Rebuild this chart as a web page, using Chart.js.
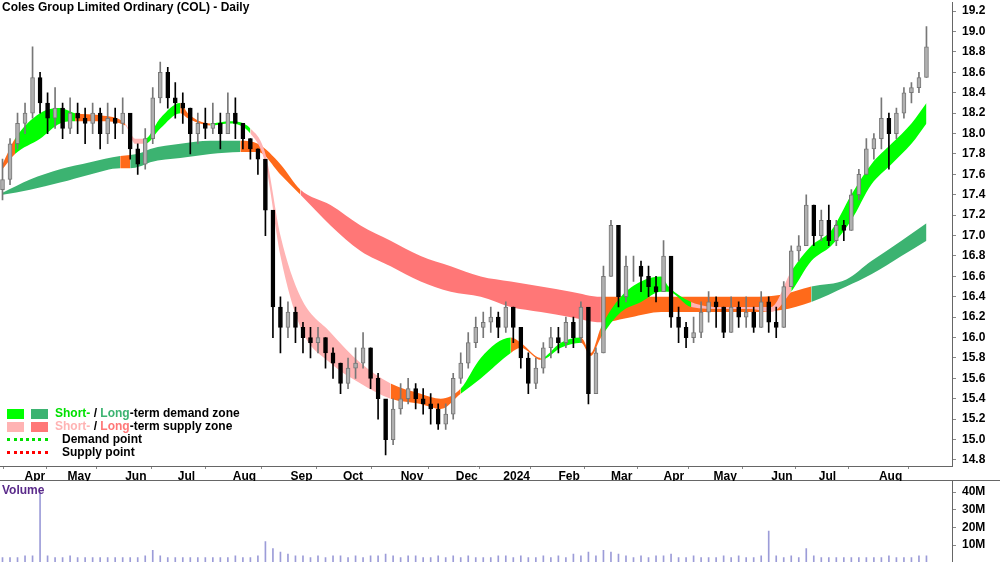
<!DOCTYPE html>
<html>
<head>
<meta charset="utf-8">
<script src="https://cdn.jsdelivr.net/npm/chart.js@4/dist/chart.umd.min.js"></script>
<style>
  body { margin: 0; width: 1000px; height: 562px; overflow: hidden; background: #fff; font-family: Arial, 'Liberation Sans', sans-serif; position: relative; }
  #volWrap { position: absolute; left: 0; top: 468px; width: 1000px; height: 108px; }
  #sep { position: absolute; left: 0; top: 480px; width: 1000px; height: 0; border-top: 1px solid #666; }
  #priceWrap { position: absolute; left: 0; top: -11px; width: 1000px; height: 492px; }
  #title { position: absolute; left: 2px; top: 0; font-size: 12px; font-weight: bold; color: #000; }
  #volLabel { position: absolute; left: 2px; top: 483px; font-size: 12px; font-weight: bold; color: #5a2a8a; }
  #legend { position: absolute; left: 7px; top: 407px; font-size: 12px; font-weight: bold; line-height: 13px; }
  .row { display: flex; align-items: center; height: 13px; }
  .box { width: 17px; height: 10px; margin-right: 7px; }
  .dots { width: 41px; height: 0; border-top: 3px dotted; margin-right: 14px; }
</style>
</head>
<body>
<div id="volWrap"><canvas id="volChart" width="1000" height="108"></canvas></div>
<div id="sep"></div>
<div id="priceWrap"><canvas id="priceChart" width="1000" height="492"></canvas></div>
<div id="title">Coles Group Limited Ordinary (COL) - Daily</div>
<div id="volLabel">Volume</div>
<div id="legend">
  <div class="row"><span class="box" style="background:#00ff00"></span><span class="box" style="background:#3cb371"></span><span style="color:#00e000">Short-</span>&nbsp;/&nbsp;<span style="color:#3cb371">Long</span>-term demand zone</div>
  <div class="row"><span class="box" style="background:#ffb3b3"></span><span class="box" style="background:#ff7777"></span><span style="color:#ffb3b3">Short-</span>&nbsp;/&nbsp;<span style="color:#ff7777">Long</span>-term supply zone</div>
  <div class="row"><span class="dots" style="border-color:#00e000"></span>Demand point</div>
  <div class="row"><span class="dots" style="border-color:#ff0000"></span>Supply point</div>
</div>
<script>
// ── Candles: one every 3 trading days (x = 3 * index) ─────────────────────────
const closes = [17.55,17.9,18.1,18.2,18.55,18.3,18.15,18.25,18.05,18.2,18.15,18.1,18.2,18.0,18.15,18.1,18.2,17.85,17.7,17.95,
  18.35,18.6,18.35,18.3,18.25,18.0,18.1,18.05,18.1,18.0,18.2,18.1,17.95,17.85,17.75,17.25,16.3,16.1,16.25,16.1,
  16.0,15.95,16.0,15.85,15.75,15.55,15.7,15.75,15.9,15.6,15.4,15.0,15.3,15.4,15.5,15.4,15.35,15.3,15.15,15.25,
  15.6,15.75,15.95,16.1,16.15,16.2,16.1,16.3,16.1,15.8,15.55,15.7,15.9,16.0,15.95,16.15,16.0,16.3,15.45,15.85,
  16.6,17.1,16.4,16.7,16.7,16.6,16.5,16.45,16.8,16.2,16.1,16.0,16.05,16.25,16.35,16.3,16.05,16.3,16.2,16.25,
  16.1,16.35,16.15,16.1,16.5,16.85,16.9,17.3,17.0,17.15,16.95,17.1,17.05,17.4,17.6,17.85,17.95,18.15,18.0,18.2,
  18.4,18.45,18.55,18.85];
const highs = [17.75,17.95,18.2,18.3,18.85,18.6,18.4,18.45,18.3,18.35,18.3,18.25,18.3,18.25,18.3,18.25,18.35,18.1,17.9,18.05,
  18.45,18.7,18.65,18.5,18.4,18.25,18.2,18.25,18.3,18.2,18.4,18.35,18.1,17.95,17.85,17.5,16.65,16.4,16.35,16.3,
  16.15,16.1,16.1,16.0,15.9,15.75,15.8,15.9,16.05,15.9,15.65,15.35,15.4,15.55,15.6,15.55,15.5,15.45,15.35,15.35,
  15.65,15.85,16.05,16.2,16.25,16.3,16.25,16.35,16.3,16.05,15.85,15.8,15.95,16.1,16.1,16.2,16.2,16.35,16.1,15.9,
  16.7,17.15,17.0,16.8,16.8,16.75,16.7,16.6,16.95,16.6,16.3,16.15,16.2,16.35,16.45,16.4,16.3,16.4,16.35,16.4,
  16.3,16.45,16.4,16.3,16.55,16.9,17.0,17.4,17.3,17.25,17.3,17.15,17.15,17.45,17.65,17.95,18.0,18.35,18.2,18.25,
  18.45,18.5,18.6,19.05];
const lows = [17.35,17.5,17.85,18.0,18.15,18.2,18.0,18.05,17.95,18.0,18.0,17.9,18.0,17.85,17.9,17.95,18.0,17.75,17.6,17.65,
  17.9,18.3,18.25,18.15,18.1,17.8,17.9,17.95,18.0,17.85,18.0,17.95,17.85,17.75,17.6,17.0,16.0,15.85,16.0,15.95,
  15.85,15.8,15.85,15.7,15.6,15.45,15.5,15.6,15.7,15.5,15.2,14.85,14.95,15.25,15.35,15.3,15.25,15.15,15.1,15.1,
  15.2,15.55,15.7,15.9,16.0,16.05,16.0,16.05,15.95,15.7,15.45,15.5,15.65,15.8,15.85,15.9,15.9,15.95,15.35,15.45,
  15.85,16.6,16.3,16.35,16.55,16.45,16.4,16.35,16.45,16.1,15.95,15.9,15.95,16.0,16.15,16.1,16.0,16.05,16.1,16.1,
  16.05,16.1,16.05,16.0,16.1,16.5,16.75,16.9,16.9,16.95,16.9,16.9,16.95,17.05,17.35,17.6,17.75,17.85,17.65,17.95,
  18.15,18.3,18.4,18.55];
const volumes = [3,3,3,4,4,40,4,3,3,4,3,3,3,3,3,3,3,3,3,4,
  7,4,3,3,3,3,3,3,3,3,3,4,3,3,4,12,8,6,5,4,
  4,3,4,3,4,4,3,4,3,4,4,5,4,3,4,4,3,3,4,3,
  4,3,4,3,3,3,4,4,3,4,3,3,4,3,4,3,5,4,6,4,
  7,6,5,4,3,4,3,4,4,5,3,3,4,3,3,3,4,3,4,3,
  3,4,18,4,3,4,3,8,4,3,3,3,3,3,3,3,3,3,4,3,
  3,3,4,4];

// ── Zones: [day, upper, lower], state d=demand s=supply t=transition ──────────
const longDays  = [0,11,23,35,47,51,55,59,71,83,95,102,111,119,131,143,155,167,179,191,203,215,227,239,251,263,275,287,299,311,323,337,347,359,369];
const longUpper = [17.42,17.55,17.65,17.72,17.78,17.79,17.81,17.85,17.9,17.93,17.93,17.9,17.7,17.45,17.3,17.1,16.95,16.8,16.7,16.6,16.55,16.5,16.45,16.4,16.4,16.4,16.4,16.4,16.4,16.42,16.5,16.57,16.75,16.95,17.12];
const longLower = [17.4,17.45,17.52,17.6,17.66,17.66,17.68,17.72,17.76,17.8,17.82,17.82,17.6,17.4,17.1,16.85,16.7,16.55,16.45,16.4,16.3,16.25,16.2,16.15,16.2,16.25,16.25,16.25,16.25,16.27,16.35,16.5,16.62,16.8,16.95];
const longState = 'ddddtdddddtttsssssssssstttttttdddd';
const shortDays  = [0,5,15,23,29,39,49,53,57,63,71,74,83,91,99,105,111,119,131,143,155,167,175,183,191,203,207,215,223,231,235,239,247,255,263,266,275,287,299,307,315,323,331,339,347,355,363,369];
const shortUpper = [17.7,17.95,18.2,18.25,18.2,18.18,18.1,17.95,17.95,18.15,18.3,18.2,18.1,18.12,18.05,17.8,17.0,16.4,16.05,15.75,15.55,15.45,15.4,15.5,15.8,16.0,15.95,15.8,15.95,16.0,15.85,16.1,16.4,16.55,16.6,16.5,16.35,16.3,16.3,16.3,16.65,16.9,17.05,17.4,17.7,17.9,18.1,18.3];
const shortLower = [17.65,17.8,17.95,18.1,18.12,18.12,18.08,17.9,17.9,18.05,18.2,18.15,18.08,18.1,18.0,17.7,16.8,16.1,15.75,15.55,15.4,15.35,15.3,15.45,15.6,15.85,15.9,15.78,15.9,15.95,15.82,16.0,16.25,16.35,16.45,16.45,16.3,16.28,16.28,16.25,16.45,16.75,16.9,17.15,17.5,17.7,17.9,18.1];
const shortState = 'tdddttssddttddsssssstttddttddttdddddssssddddddd';

const monthDays   = [8.8,26,49,70,92,115,136,159,181,200,222,243,264,284,307,326,350];
const monthLabels = ['Apr','May','Jun','Jul','Aug','Sep','Oct','Nov','Dec','2024','Feb','Mar','Apr','May','Jun','Jul','Aug'];
const priceTicks  = [14.8,15.0,15.2,15.4,15.6,15.8,16.0,16.2,16.4,16.6,16.8,17.0,17.2,17.4,17.6,17.8,18.0,18.2,18.4,18.6,18.8,19.0,19.2];
const volTicks    = [10,20,30,40];

const X_MIN = -1, X_MAX = 379.2;
const LONG_COL  = { d: '#3cb371', s: '#ff7777', t: '#ff6a1a' };
const SHORT_COL = { d: '#00ff00', s: '#ffb3b3', t: '#ff6a1a' };
const tickFont = { family: 'Arial', size: 12, weight: 'bold' };

const candleX = closes.map((_, i) => i * 3);
const opens = closes.map((c, i) => i === 0 ? 17.45 : closes[i - 1]);
const bodyColor = closes.map((c, i) => c >= opens[i] ? '#b0b0b0' : '#000000');

function band(days, vals) { return days.map((d, i) => ({ x: d, y: vals[i] })); }
function zone(days, upper, lower, state, cols, order) {
  const seg = { backgroundColor: ctx => cols[state[ctx.p0DataIndex]] };
  return [
    { type: 'line', data: band(days, upper), fill: '+1', borderWidth: 0, pointRadius: 0,
      cubicInterpolationMode: 'monotone', segment: seg, backgroundColor: cols.d, order },
    { type: 'line', data: band(days, lower), fill: false, borderWidth: 0, pointRadius: 0,
      cubicInterpolationMode: 'monotone', order },
  ];
}

new Chart(document.getElementById('priceChart').getContext('2d'), {
  data: {
    datasets: [
      ...zone(longDays, longUpper, longLower, longState, LONG_COL, 3),
      ...zone(shortDays, shortUpper, shortLower, shortState, SHORT_COL, 2),
      { type: 'bar', data: candleX.map((x, i) => ({ x, y: [lows[i], highs[i]] })),
        backgroundColor: bodyColor.map(c => c === '#000000' ? '#000' : '#777'), barThickness: 1, grouped: false, order: 1 },
      { type: 'bar', data: candleX.map((x, i) => ({ x, y: [opens[i], closes[i]] })),
        backgroundColor: bodyColor, borderColor: bodyColor.map(c => c === '#000000' ? '#000' : '#777'),
        borderWidth: 1, borderSkipped: false, barThickness: 4, grouped: false, order: 0 },
    ],
  },
  options: {
    animation: false, responsive: false, events: [],
    plugins: { legend: { display: false }, tooltip: { enabled: false } },
    scales: {
      x: { type: 'linear', min: X_MIN, max: X_MAX, offset: false,
        afterBuildTicks: s => { s.ticks = monthDays.map(v => ({ value: v })); },
        afterFit: s => { s.height = 15; },
        ticks: { font: tickFont, color: '#000', padding: 0, maxRotation: 0, autoSkip: false, align: 'start',
          callback: (v, i) => monthLabels[i] },
        grid: { drawOnChartArea: false, tickLength: 3, color: '#888' },
        border: { color: '#666' } },
      y: { position: 'right', min: 14.741, max: 19.288,
        afterBuildTicks: s => { s.ticks = priceTicks.map(v => ({ value: v })); },
        afterFit: s => { s.width = 48; },
        ticks: { font: tickFont, color: '#000', padding: 6, callback: v => v.toFixed(1) },
        grid: { drawOnChartArea: false, tickLength: 4, color: '#888' },
        border: { color: '#666' } },
    },
  },
});

new Chart(document.getElementById('volChart').getContext('2d'), {
  type: 'bar',
  data: { datasets: [{ data: candleX.map((x, i) => ({ x, y: volumes[i] })), backgroundColor: '#9c9cd8', barThickness: 1 }] },
  options: {
    animation: false, responsive: false, events: [],
    plugins: { legend: { display: false }, tooltip: { enabled: false } },
    scales: {
      x: { type: 'linear', min: X_MIN, max: X_MAX, offset: false, display: false },
      y: { position: 'right', min: 0, max: 46.2,
        afterBuildTicks: s => { s.ticks = volTicks.map(v => ({ value: v })); },
        afterFit: s => { s.width = 48; },
        ticks: { font: tickFont, color: '#000', padding: 6, callback: v => v + 'M' },
        grid: { drawOnChartArea: false, tickLength: 4, color: '#888' },
        border: { color: '#666' } },
    },
  },
});
</script>
</body>
</html>
